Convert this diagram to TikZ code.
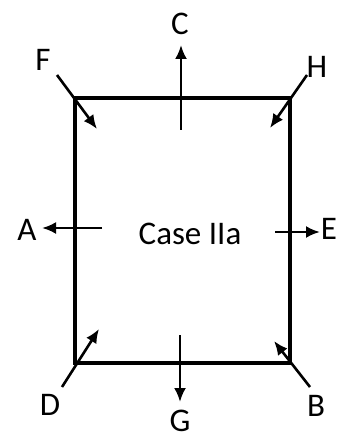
\documentclass[tikz,border=0pt]{standalone}
\usepackage{fontspec}
\setmainfont{Carlito}
\usetikzlibrary{arrows.meta}
\begin{document}
\begin{tikzpicture}[x=1pt,y=-1pt,
	force/.style={-{Latex[length=14pt,width=12pt]}, line width=2.6pt},
	lbl/.style={font=\fontsize{33}{33}\selectfont, inner sep=0pt}]
		\useasboundingbox (0,0) rectangle (340,438);
		
		% box
		\coordinate (nw) at (75,98);
		\coordinate (ne) at (290,98);
		\coordinate (se) at (290,363);
		\coordinate (sw) at (75,363);
		\draw[line width=4.5pt] (nw) -- (ne) -- (se) -- (sw) -- cycle;
		
		\node[lbl] (case) at (190,234) {Case IIa};
		
		% labels
		\node[lbl] (F) at (43,60) {F};
		\node[lbl] (C) at (180,24) {C};
		\node[lbl] (H) at (317,67) {H};
		\node[lbl] (A) at (27,230) {A};
		\node[lbl] (E) at (329,229) {E};
		\node[lbl] (D) at (50,405) {D};
		\node[lbl] (G) at (180,421) {G};
		\node[lbl] (B) at (316,406) {B};
		
		% arrow ends
		\coordinate (f0) at (57,75);   \coordinate (f1) at (97,129);
		\coordinate (c0) at (181,130); \coordinate (c1) at (181,45);
		\coordinate (h0) at (307,75);  \coordinate (h1) at (270,128);
		\coordinate (a0) at (102,228); \coordinate (a1) at (42,228);
		\coordinate (e0) at (275,232); \coordinate (e1) at (320,232);
		\coordinate (d0) at (62,387);  \coordinate (d1) at (99,329);
		\coordinate (g0) at (180,335); \coordinate (g1) at (180,402);
		\coordinate (b0) at (310,387); \coordinate (b1) at (274,341);
		
		% forces
		\foreach \p in {f,c,h,a,e,d,g,b}
			\draw[force] (\p0) -- (\p1);
		
\end{tikzpicture}
\end{document}
